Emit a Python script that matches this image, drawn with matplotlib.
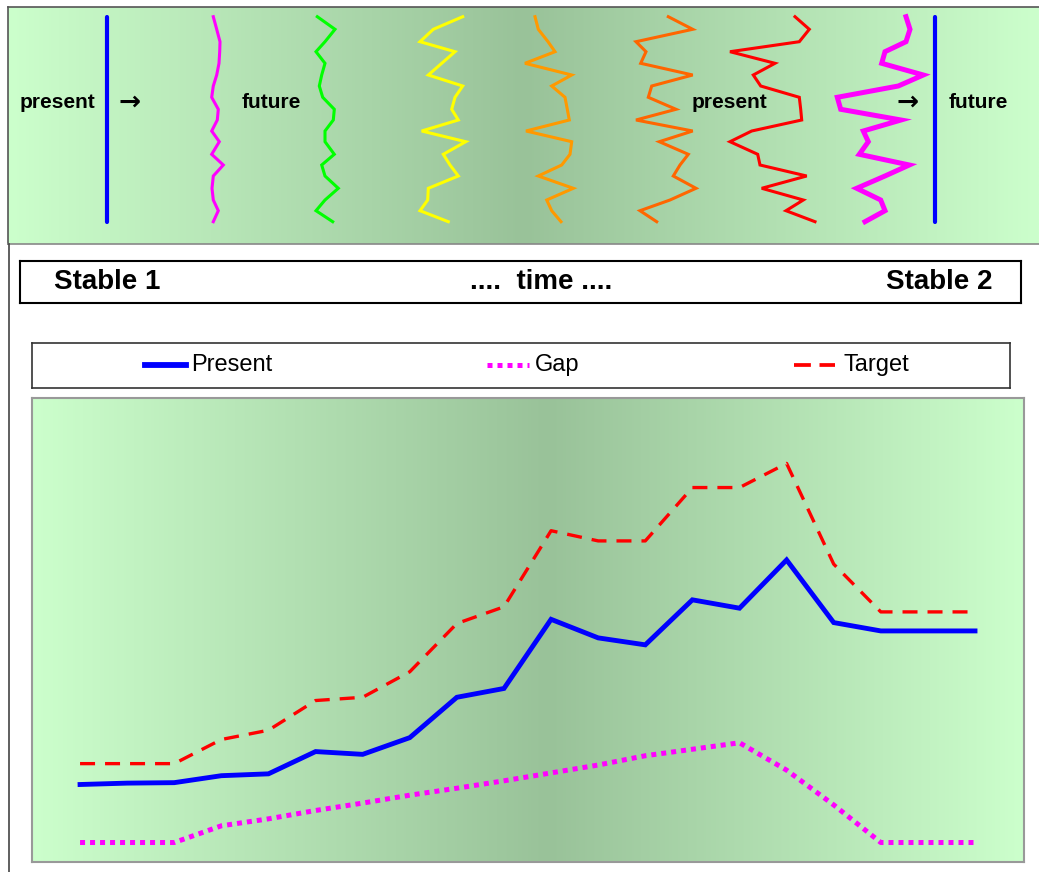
import matplotlib.pyplot as plt
import numpy as np
from matplotlib.lines import Line2D

plt.rcParams['font.family'] = ['Liberation Sans', 'DejaVu Sans']

W, H = 1039, 872

# --- series for the lower chart -------------------------------------------------
steps = np.arange(20)
present = [16.7, 17.0, 17.1, 18.6, 19.0, 23.8, 23.2, 26.8, 35.5, 37.4,
           52.3, 48.3, 46.8, 56.5, 54.7, 65.1, 51.6, 49.8, 49.8, 49.8]
target = [21.2, 21.2, 21.2, 26.4, 28.4, 34.8, 35.5, 41.0, 51.4, 55.0,
          71.4, 69.2, 69.2, 80.7, 80.7, 85.9, 64.2, 53.9, 53.9, 53.9]
gap = [4.2, 4.2, 4.2, 7.8, 9.3, 11.1, 12.7, 14.4, 15.9, 17.5,
       19.2, 20.9, 22.9, 24.3, 25.7, 19.8, 12.3, 4.2, 4.2, 4.2]

# --- squiggles for the banner (shared vertical levels, x per squiggle) ----------
levels = [16.7, 29.3, 41.7, 51.7, 63.3, 75, 86, 97.3, 109.3, 120,
          131, 141.7, 154.3, 165, 176, 188.3, 200, 210.7, 221.7]
sq_magenta = [213.3, 216.7, 220, 219.7, 219, 216.7, 213.3, 211.7, 218.3, 217.3,
              211.7, 219.3, 211.7, 223.3, 213.3, 212, 213.3, 218.3, 213.3]
sq_green = [317.3, 335, 325, 316, 325, 321.7, 319.3, 322.7, 334.3, 333.3,
            325, 325, 334.3, 321.7, 325, 338.3, 325, 316, 332.7]
sq_yellow = [462.7, 433.3, 420, 455, 441.7, 428.3, 462.7, 455, 451.7, 458.3,
             421.7, 465.7, 443.3, 450, 458.3, 428.3, 427.7, 420, 448.3]
sq_orange = [535, 538.3, 548, 555, 525, 571.7, 551.7, 565, 567.3, 569.3,
             526, 571.7, 570, 561.7, 538.3, 573.3, 546.7, 551.7, 561]
sq_darkorange = [668.3, 692.7, 636, 646, 640.7, 692.7, 651.7, 648.3, 676, 636,
                 692.7, 659.3, 688.3, 680, 673.3, 696, 670, 640, 656.7]
sq_red = [795, 809.3, 799.3, 730, 775, 753.3, 760.7, 799.3, 800.7, 801.7,
          751.7, 730, 757.7, 760, 806.7, 761.7, 803.3, 786, 815]
sq_magenta2 = [906, 910, 906, 885, 881.7, 923.3, 898.3, 837.3, 840.7, 901,
               863.3, 868.3, 859.3, 909.3, 885, 856.7, 880.7, 885, 865]
squiggles = [(sq_magenta, '#ff00ff', 2.2), (sq_green, '#00ff00', 2.2),
             (sq_yellow, '#ffff00', 2.2), (sq_orange, '#ff9900', 2.2),
             (sq_darkorange, '#ff6600', 2.2), (sq_red, '#ff0000', 2.2),
             (sq_magenta2, '#ff00ff', 3.6)]
stable_lines = [107, 935]

light = np.array([204, 255, 204]) / 255
dark = np.array([153, 194, 153]) / 255

fig = plt.figure(figsize=(W / 100, H / 100), dpi=100)


def px_axes(x0, y0, x1, y1):
    ax = fig.add_axes([x0 / W, 1 - y1 / H, (x1 - x0) / W, (y1 - y0) / H])
    ax.set_xticks([])
    ax.set_yticks([])
    return ax


def gradient(ax, extent, centre):
    xs = np.linspace(0, 1, 600)
    t = np.where(xs < centre, xs / centre, (1 - xs) / (1 - centre))
    img = light[None, :] + (dark - light)[None, :] * t[:, None]
    ax.imshow(img[None, :, :], extent=extent, aspect='auto', zorder=0,
              interpolation='bilinear')


# banner
top = px_axes(8, 7, 1039, 244)
gradient(top, (8, 1039, 244, 7), 0.5)
top.set_xlim(8, 1039)
top.set_ylim(244, 7)
top.spines['right'].set_visible(False)
top.spines['top'].set_color('#555555')
top.spines['left'].set_color('#555555')
top.spines['bottom'].set_color('#888888')
for sp in top.spines.values():
    sp.set_linewidth(1.2)

for x in stable_lines:
    top.plot([x, x], [levels[0], levels[-1]], color='#0000ff', lw=3,
             solid_capstyle='round')
for xs, col, lw in squiggles:
    top.plot(xs, levels, color=col, lw=lw, solid_joinstyle='miter')

bold = dict(fontsize=15, fontweight='bold', va='center', ha='left')
top.text(20, 102, 'present', **bold)
top.text(242, 102, 'future', **bold)
top.text(692, 102, 'present', **bold)
top.text(949, 102, 'future', **bold)
arrow = dict(fontsize=19, fontweight='bold', va='center', ha='left',
             family='DejaVu Sans')
top.text(118, 103, '→', **arrow)
top.text(897, 103, '→', **arrow)

# outer frame line down the left side
fig.add_artist(Line2D([8.5 / W, 8.5 / W], [0, 1 - 244 / H],
                      transform=fig.transFigure, color='#444444', lw=1.2))

# time strip
strip = px_axes(20, 261, 1021, 303)
strip.set_xlim(20, 1021)
strip.set_ylim(303, 261)
for sp in strip.spines.values():
    sp.set_linewidth(1.5)
    sp.set_color('black')
big = dict(fontsize=20, fontweight='bold', va='center')
strip.text(54, 282, 'Stable 1', ha='left', **big)
strip.text(541, 282, '....  time ....', ha='center', **big)
strip.text(992, 282, 'Stable 2', ha='right', **big)

# legend strip
leg = px_axes(32, 343, 1010, 388)
leg.set_xlim(32, 1010)
leg.set_ylim(388, 343)
for sp in leg.spines.values():
    sp.set_linewidth(1.2)
    sp.set_color('#333333')
entries = [('Present', '#0000ff', '-', 4.2, 145, 186, 191),
           ('Gap', '#ff00ff', (0, (1, 1)), 3.6, 487, 529, 535),
           ('Target', '#ff0000', (0, (4.5, 2.3)), 2.7, 794, 835, 843)]
for label, col, ls, lw, x0, x1, tx in entries:
    leg.plot([x0, x1], [365, 365], color=col, ls=ls, lw=lw)
    leg.text(tx, 365, label, fontsize=17, va='center', ha='left')

# main chart
ax = px_axes(32, 398, 1024, 862)
gradient(ax, (-1.02, 20.04, 0, 100), 0.52)
ax.set_xlim(-1.02, 20.04)
ax.set_ylim(0, 100)
for sp in ax.spines.values():
    sp.set_color('#999999')
    sp.set_linewidth(1.5)

ax.plot(steps, present, color='#0000ff', lw=3.5, solid_joinstyle='miter')
ax.plot(steps, target, color='#ff0000', lw=2.4, ls=(0, (4.5, 3)))
ax.plot(steps, gap, color='#ff00ff', lw=3.6, ls=(0, (1, 1)))

fig.savefig('out.png', dpi=100, facecolor='white')
